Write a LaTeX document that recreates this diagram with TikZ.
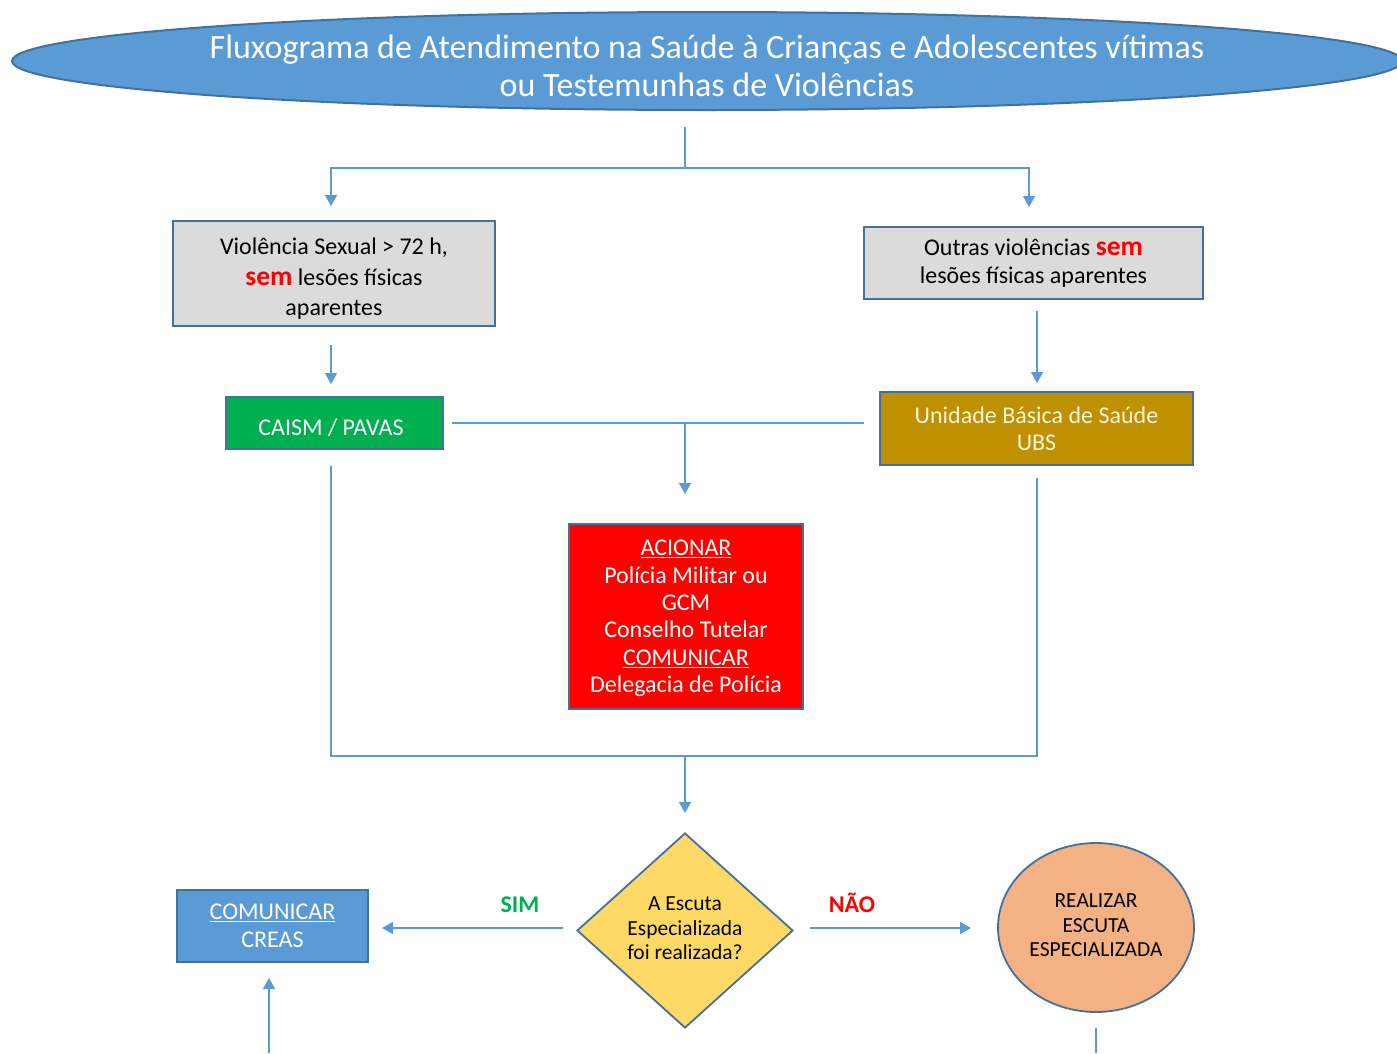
\documentclass[tikz,border=0pt]{standalone}
\usepackage{fontspec}
\setmainfont{Carlito}
\usetikzlibrary{shapes.geometric,arrows.meta}
\definecolor{lineblue}{HTML}{5B9BD5}
\definecolor{edgeblue}{HTML}{41719C}
\definecolor{boxgray}{HTML}{DBDBDB}
\definecolor{caismgreen}{HTML}{00B050}
\definecolor{ubsgold}{HTML}{BF9000}
\definecolor{ubstext}{HTML}{FFF5DC}
\definecolor{alertred}{HTML}{FF0000}
\definecolor{diamondyellow}{HTML}{FFD966}
\definecolor{circleorange}{HTML}{F4B183}
\definecolor{simgreen}{HTML}{00B050}
\tikzset{
  boxbase/.style={draw=edgeblue, line width=1.8pt, inner sep=0pt, align=center},
  textonly/.style={inner sep=0pt, align=center},
  conn/.style={draw=lineblue, line width=1.4pt},
  arr/.style={conn, -{Triangle[length=11pt,width=12pt]}},
  smallfont/.style={font=\fontsize{21.5}{24.5}\selectfont},
}
\newcommand{\semword}{\textcolor{alertred}{\fontsize{27.5}{28}\selectfont\bfseries sem}}
\begin{document}
\begin{tikzpicture}[x=1pt,y=-1pt]
\useasboundingbox (0,0) rectangle (1397,1053);
% title
\node[ellipse, draw=edgeblue, line width=2pt, fill=lineblue, minimum width=1390, minimum height=98, inner sep=0pt] (title) at (707,61) {};
\node[textonly, text=white, font=\fontsize{34}{38}\selectfont] (titletext) at (707,66)
  {Fluxograma de Atendimento na Saúde à Crianças e Adolescentes vítimas\\ou Testemunhas de Violências};
% boxes
\node[boxbase, fill=boxgray, minimum width=322, minimum height=105] (b1) at (334,273.5) {};
\node[textonly, font=\fontsize{24}{30.5}\selectfont] (b1text) at (334,279)
  {Violência Sexual > 72 h,\\\semword{} lesões físicas\\aparentes};
\node[boxbase, fill=boxgray, minimum width=339, minimum height=72, font=\fontsize{24}{28}\selectfont] (b2) at (1033.5,263)
  {Outras violências \semword\\lesões físicas aparentes};
\node[boxbase, fill=caismgreen, minimum width=217, minimum height=52] (caism) at (334.5,423) {};
\node[textonly, text=white, font=\fontsize{24}{28}\selectfont] (caismtext) at (331,428) {CAISM / PAVAS};
\node[boxbase, fill=ubsgold, minimum width=313, minimum height=73, text=ubstext, font=\fontsize{24}{27}\selectfont] (ubs) at (1036.5,428.5)
  {Unidade Básica de Saúde\\UBS};
\node[boxbase, fill=alertred, minimum width=234, minimum height=185] (red) at (686,616.5) {};
\node[textonly, text=white, font=\fontsize{24}{27.4}\selectfont] (redtext) at (686,618.5)
  {\underline{ACIONAR}\\Polícia Militar ou\\GCM\\Conselho Tutelar\\\underline{COMUNICAR}\\Delegacia de Polícia};
\node[diamond, draw=edgeblue, line width=1.8pt, fill=diamondyellow, minimum width=216, minimum height=195, inner sep=0pt] (dec) at (685,930.5) {};
\node[textonly, smallfont] (dectext) at (685,928.5) {A Escuta\\Especializada\\foi realizada?};
\node[boxbase, fill=lineblue, minimum width=191, minimum height=72, text=white, font=\fontsize{24}{28}\selectfont] (creas) at (272.5,926)
  {\underline{COMUNICAR}\\CREAS};
\node[ellipse, draw=edgeblue, line width=1.8pt, fill=circleorange, minimum width=196, minimum height=169, inner sep=0pt] (esc) at (1096,927.5) {};
\node[textonly, smallfont] (esctext) at (1096,925.5) {REALIZAR\\ESCUTA\\ESPECIALIZADA};
% labels
\node[font=\fontsize{24}{24}\selectfont\bfseries, text=simgreen] (sim) at (520,905) {SIM};
\node[font=\fontsize{24}{24}\selectfont\bfseries, text=alertred] (nao) at (852,903) {NÃO};
% connector coordinates
\coordinate (t0) at (685,127);
\coordinate (tm) at (685,168);
\coordinate (al) at (331,206);
\coordinate (ar) at (1029,207);
\coordinate (b1out) at (331,345);
\coordinate (caismin) at (331,384);
\coordinate (b2out) at (1037,311);
\coordinate (ubsin) at (1037,383);
\coordinate (hl) at (452,423);
\coordinate (hr) at (864,423);
\coordinate (hm) at (685,423);
\coordinate (redin) at (685,494);
\coordinate (caismout) at (331,466);
\coordinate (ubsout) at (1037,478);
\coordinate (bl) at (331,756);
\coordinate (br) at (1037,756);
\coordinate (bm) at (685,756);
\coordinate (decin) at (685,813);
\coordinate (simstart) at (563,928);
\coordinate (simend) at (382,928);
\coordinate (naostart) at (810,928);
\coordinate (naoend) at (971,928);
\coordinate (upstart) at (269,1053);
\coordinate (upend) at (269,978);
\coordinate (escout) at (1096,1028);
\coordinate (escend) at (1096,1053);
% connectors
\draw[conn] (t0) -- (tm);
\draw[arr] (tm) -| (al);
\draw[arr] (tm) -| (ar);
\draw[arr] (b1out) -- (caismin);
\draw[arr] (b2out) -- (ubsin);
\draw[conn] (hl) -- (hr);
\draw[arr] (hm) -- (redin);
\draw[conn] (caismout) -- (bl) -- (br) -- (ubsout);
\draw[arr] (bm) -- (decin);
\draw[arr] (simstart) -- (simend);
\draw[arr] (naostart) -- (naoend);
\draw[arr] (upstart) -- (upend);
\draw[conn] (escout) -- (escend);
\end{tikzpicture}
\end{document}
